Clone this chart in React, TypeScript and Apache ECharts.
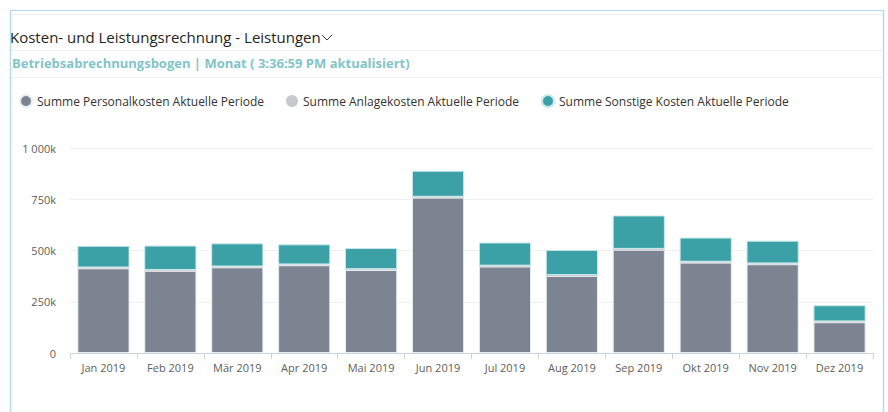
import React, { useEffect, useRef } from "react";
import * as echarts from "echarts";

const months = ["Jan 2019", "Feb 2019", "Mär 2019", "Apr 2019", "Mai 2019", "Jun 2019", "Jul 2019", "Aug 2019", "Sep 2019", "Okt 2019", "Nov 2019", "Dez 2019"];
const personalkosten = [413000, 401000, 418000, 428000, 405000, 758000, 422000, 376000, 504000, 441000, 433000, 150000];
const anlagekosten = [4000, 4000, 4000, 4000, 4000, 4000, 4000, 4000, 4000, 4000, 4000, 4000];
const sonstigeKosten = [106000, 119000, 113000, 98000, 103000, 127000, 113000, 123000, 163000, 118000, 111000, 79000];
const yTicks = [0, 250000, 500000, 750000, 1000000];

const FONT = "'Open Sans', 'Noto Sans', sans-serif";

export default function App() {
  const ref = useRef<HTMLDivElement>(null);
  useEffect(() => {
    const chart = echarts.init(ref.current!, undefined, { renderer: "svg" });
    const fmt = (v: number) => {
      if (v === 0) return "0";
      const k = Math.round(v / 1000);
      return String(k).replace(/\B(?=(\d{3})+(?!\d))/g, " ") + "k";
    };
    chart.setOption({
      animation: false,
      backgroundColor: "#ffffff",
      textStyle: { fontFamily: FONT },
      graphic: [
        { type: "line", shape: { x1: 10, y1: 10.5, x2: 883, y2: 10.5 }, style: { stroke: "#b3dcf2", lineWidth: 1 } },
        { type: "line", shape: { x1: 10.5, y1: 10, x2: 10.5, y2: 412 }, style: { stroke: "#b3dcf2", lineWidth: 1.5 } },
        { type: "line", shape: { x1: 883.5, y1: 10, x2: 883.5, y2: 412 }, style: { stroke: "#b3dcf2", lineWidth: 1.5 } },
        { type: "line", shape: { x1: 11, y1: 14.5, x2: 883, y2: 14.5 }, style: { stroke: "#eeeeee", lineWidth: 1 } },
        { type: "line", shape: { x1: 11, y1: 50.5, x2: 883, y2: 50.5 }, style: { stroke: "#eeeeee", lineWidth: 1 } },
        { type: "line", shape: { x1: 11, y1: 77.5, x2: 883, y2: 77.5 }, style: { stroke: "#eeeeee", lineWidth: 1 } },
        { type: "text", left: 10, top: 29, style: { text: "Kosten- und Leistungsrechnung - Leistungen", fill: "#252423", font: "15px " + FONT } },
        { type: "polyline", shape: { points: [[322, 35], [327, 40], [332, 35]] }, style: { stroke: "#444", lineWidth: 1, fill: null } },
        { type: "text", left: 12, top: 56, style: { text: "Betriebsabrechnungsbogen | Monat ( 3:36:59 PM aktualisiert)", fill: "#82c4c9", font: "bold 13px " + FONT } },
      ],
      legend: {
        left: 14,
        top: 89,
        icon: "circle",
        itemWidth: 12,
        itemHeight: 12,
        itemGap: 22,
        textStyle: { color: "#333333", fontSize: 12, fontFamily: FONT },
        data: ["Summe Personalkosten Aktuelle Periode", "Summe Anlagekosten Aktuelle Periode", "Summe Sonstige Kosten Aktuelle Periode"],
      },
      grid: { left: 70, right: 15, top: 148, bottom: 59, containLabel: false },
      xAxis: {
        type: "category",
        data: months,
        axisLine: { lineStyle: { color: "#c8d3e3" } },
        axisTick: { show: true, length: 6, lineStyle: { color: "#c8d3e3" } },
        axisLabel: { color: "#605e5c", fontSize: 11, margin: 9, fontFamily: FONT },
      },
      yAxis: {
        type: "value",
        min: yTicks[0],
        max: yTicks[yTicks.length - 1],
        interval: yTicks[1] - yTicks[0],
        axisLabel: { color: "#605e5c", fontSize: 11, margin: 14, formatter: fmt, fontFamily: FONT },
        splitLine: { lineStyle: { color: "#f0f0f0", width: 1 } },
        axisLine: { show: false },
        axisTick: { show: false },
      },
      series: [
        {
          name: "Summe Personalkosten Aktuelle Periode",
          type: "bar",
          stack: "total",
          data: personalkosten,
          barCategoryGap: "22%",
          itemStyle: { color: "#7c8491", borderColor: "#e8eef0", borderWidth: 1 },
        },
        {
          name: "Summe Anlagekosten Aktuelle Periode",
          type: "bar",
          stack: "total",
          data: anlagekosten,
          itemStyle: { color: "#c5c8ce", borderWidth: 0 },
        },
        {
          name: "Summe Sonstige Kosten Aktuelle Periode",
          type: "bar",
          stack: "total",
          data: sonstigeKosten,
          itemStyle: { color: "#3ca0a7", borderColor: "#c8e8ea", borderWidth: 1 },
        },
      ],
    });
    return () => chart.dispose();
  }, []);
  return <div ref={ref} style={{ width: 888, height: 412, position: "absolute", left: 0, top: 0 }} />;
}
